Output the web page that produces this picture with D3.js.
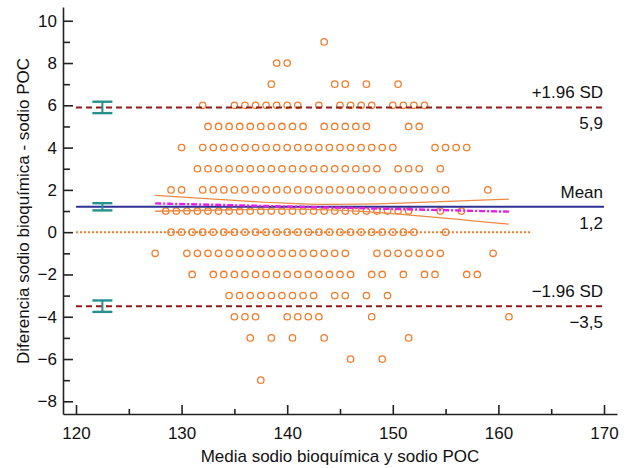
<!DOCTYPE html>
<html>
<head>
<meta charset="utf-8">
<script src="https://cdn.jsdelivr.net/npm/d3@7"></script>
<style>
body { margin: 0; background: #fff; }
svg text { font-family: "Liberation Sans", Arial, Helvetica, sans-serif; fill: #111; }
</style>
</head>
<body>
<svg id="chart" width="626" height="468"></svg>
<script>

// Difference (bioquímica - POC), one row of points per value

var diffLevels = [9, 8, 7, 6, 5, 4, 3, 2, 1, 0, -1, -2, -3, -4, -5, -6, -7];

// Mean of both measures, for each difference row above

var meansAt9 = [143.5];
var meansAt8 = [139, 140];
var meansAt7 = [138.5, 144.5, 145.5, 147.5, 150.5];
var meansAt6 = [132, 135, 136, 137, 138, 139, 140, 141, 143, 145, 146, 147, 148, 150, 151, 152, 153];
var meansAt5 = [132.5, 133.5, 134.5, 135.5, 136.5, 137.5, 138.5, 139.5, 140.5, 141.5, 143.5, 144.5, 145.5, 146.5, 147.5, 151.5, 152.5];
var meansAt4 = [130, 132, 133, 134, 135, 136, 137, 138, 139, 140, 141, 142, 143, 144, 145, 146, 147, 148, 149, 150, 154, 155, 156, 157];
var meansAt3 = [131.5, 132.5, 133.5, 134.5, 135.5, 136.5, 137.5, 138.5, 139.5, 140.5, 141.5, 142.5, 143.5, 144.5, 145.5, 146.5, 147.5, 148.5, 150.5, 151.5, 152.5, 154.5];
var meansAt2 = [129, 130, 132, 133, 134, 135, 136, 137, 138, 139, 140, 141, 142, 143, 144, 145, 146, 147, 148, 149, 150, 151, 152, 153, 154, 155, 159];
var meansAt1 = [128.5, 129.5, 130.5, 131.5, 132.5, 133.5, 134.5, 135.5, 136.5, 137.5, 138.5, 139.5, 140.5, 141.5, 142.5, 143.5, 144.5, 145.5, 146.5, 147.5, 148.5, 149.5, 150.5, 151.5, 154.5, 156.5];
var meansAt0 = [129, 130, 131, 132, 133, 134, 135, 136, 137, 138, 139, 140, 141, 142, 143, 144, 145, 146, 147, 148, 149, 150, 151, 152, 155];
var meansAtM1 = [127.5, 130.5, 131.5, 132.5, 133.5, 134.5, 135.5, 136.5, 137.5, 138.5, 139.5, 140.5, 141.5, 142.5, 143.5, 144.5, 145.5, 148.5, 149.5, 150.5, 151.5, 152.5, 153.5, 154.5, 159.5];
var meansAtM2 = [131, 133, 134, 135, 136, 137, 138, 139, 140, 141, 142, 143, 144, 145, 146, 148, 149, 151, 153, 154, 157, 158];
var meansAtM3 = [134.5, 135.5, 136.5, 137.5, 138.5, 139.5, 140.5, 141.5, 142.5, 144.5, 145.5, 147.5, 149.5];
var meansAtM4 = [135, 136, 137, 140, 141, 142, 143, 148, 161];
var meansAtM5 = [136.5, 138.5, 140.5, 143.5, 151.5];
var meansAtM6 = [146, 149];
var meansAtM7 = [137.5];

var meanRows = [meansAt9, meansAt8, meansAt7, meansAt6, meansAt5, meansAt4, meansAt3, meansAt2,
	meansAt1, meansAt0, meansAtM1, meansAtM2, meansAtM3, meansAtM4, meansAtM5, meansAtM6, meansAtM7];

// Limits of agreement and mean difference

var limitValues = [5.9, 1.2, -3.5];
var limitNames = ['+1.96 SD', 'Mean', '\u22121.96 SD'];
var limitLabels = ['5,9', '1,2', '\u22123,5'];
var limitLow = [5.63, 1.03, -3.77];
var limitHigh = [6.17, 1.37, -3.23];
var limitBarAt = 122.5;
var limitSpan = [120, 170];
var zeroSpan = [120, 163];

// Regression line of differences and its confidence band

var regX = [127.5, 161];
var regY = [1.36, 0.97];
var bandX = [127.5, 135, 142, 150, 161];
var bandUpper = [1.74, 1.50, 1.33, 1.36, 1.56];
var bandLower = [0.99, 1.06, 1.08, 0.88, 0.38];

// Ticks

var xTicks = [120, 130, 140, 150, 160, 170];
var xMinorTicks = [125, 135, 145, 155, 165];
var yTicks = [-8, -6, -4, -2, 0, 2, 4, 6, 8, 10];
var yMinorTicks = [-7, -5, -3, -1, 1, 3, 5, 7, 9];

var orange = '#ef7d2c';
var fontFamily = '"Liberation Sans", Arial, Helvetica, sans-serif';

var svg = d3.select('#chart');

var x = d3.scaleLinear().domain([118.77, 171.23]).range([63, 617]);
var y = d3.scaleLinear().domain([-8.6, 10.65]).range([414, 7]);

// axes

var xAxisG = svg.append('g')
	.attr('transform', 'translate(0,' + y(-8.6) + ')')
	.call(d3.axisBottom(x).tickValues(xTicks).tickSizeInner(-9).tickSizeOuter(0).tickPadding(13));

svg.append('g')
	.attr('transform', 'translate(0,' + y(-8.6) + ')')
	.call(d3.axisBottom(x).tickValues(xMinorTicks).tickSizeInner(-5).tickFormat(''))
	.call(function(g){ g.select('.domain').remove(); });

var yAxisG = svg.append('g')
	.attr('transform', 'translate(' + x(118.77) + ',0)')
	.call(d3.axisLeft(y).tickValues(yTicks).tickSizeInner(-10).tickSizeOuter(0).tickPadding(6));

svg.append('g')
	.attr('transform', 'translate(' + x(118.77) + ',0)')
	.call(d3.axisLeft(y).tickValues(yMinorTicks).tickSizeInner(-7).tickFormat(''))
	.call(function(g){ g.select('.domain').remove(); });

svg.selectAll('g')
	.attr('color', '#222')
	.attr('font-size', 17)
	.attr('font-family', fontFamily);

svg.selectAll('.domain, .tick line').attr('stroke-width', 1.6);

// points

var points = [];
diffLevels.forEach(function(d, i){
	meanRows[i].forEach(function(m){ points.push({ mean: m, diff: d }); });
});

svg.append('g').selectAll('circle')
	.data(points)
	.enter().append('circle')
	.attr('cx', function(d){ return x(d.mean); })
	.attr('cy', function(d){ return y(d.diff); })
	.attr('r', 3.2)
	.style('fill', 'none')
	.style('stroke', orange)
	.style('stroke-width', 1.3);

// zero line

svg.append('line')
	.attr('x1', x(zeroSpan[0]))
	.attr('x2', x(zeroSpan[1]))
	.attr('y1', y(0))
	.attr('y2', y(0))
	.style('stroke', orange)
	.style('stroke-width', 2)
	.style('stroke-dasharray', '2,2');

// confidence band of the regression

var bandLine = d3.line()
	.x(function(d){ return x(d[0]); })
	.y(function(d){ return y(d[1]); })
	.curve(d3.curveNatural);

[bandUpper, bandLower].forEach(function(vals){
	svg.append('path')
		.attr('d', bandLine(d3.zip(bandX, vals)))
		.style('fill', 'none')
		.style('stroke', '#ec8a45')
		.style('stroke-width', 1.3);
});

// limits of agreement + mean

var limits = svg.append('g').selectAll('g')
	.data(limitValues)
	.enter().append('g');

limits.append('line')
	.attr('x1', x(limitSpan[0]))
	.attr('x2', x(limitSpan[1]))
	.attr('y1', function(d){ return y(d); })
	.attr('y2', function(d){ return y(d); })
	.style('stroke', function(d, i){ return i == 1 ? '#2e3192' : '#8e1b1b'; })
	.style('stroke-width', 2)
	.style('stroke-dasharray', function(d, i){ return i == 1 ? null : '6,4'; });

// regression line

svg.append('line')
	.attr('x1', x(regX[0]))
	.attr('x2', x(regX[1]))
	.attr('y1', y(regY[0]))
	.attr('y2', y(regY[1]))
	.style('stroke', '#e61fe6')
	.style('stroke-width', 2.4)
	.style('stroke-dasharray', '6,2,2,2');

// confidence intervals of the limits

var bars = svg.append('g').selectAll('g')
	.data(limitValues)
	.enter().append('g')
	.style('stroke', '#26908d');

bars.append('line')
	.attr('x1', x(limitBarAt))
	.attr('x2', x(limitBarAt))
	.attr('y1', function(d, i){ return y(limitLow[i]); })
	.attr('y2', function(d, i){ return y(limitHigh[i]); })
	.style('stroke-width', 2);

[limitLow, limitHigh].forEach(function(ends){
	bars.append('line')
		.attr('x1', x(limitBarAt) - 10)
		.attr('x2', x(limitBarAt) + 10)
		.attr('y1', function(d, i){ return y(ends[i]); })
		.attr('y2', function(d, i){ return y(ends[i]); })
		.style('stroke-width', 2.4);
});

// labels at the right

limits.append('text')
	.attr('x', x(limitSpan[1]) - 1)
	.attr('y', function(d){ return y(d) - 9; })
	.style('text-anchor', 'end')
	.style('font-size', '17px')
	.text(function(d, i){ return limitNames[i]; });

limits.append('text')
	.attr('x', x(limitSpan[1]) - 1)
	.attr('y', function(d){ return y(d) + 22; })
	.style('text-anchor', 'end')
	.style('font-size', '17px')
	.text(function(d, i){ return limitLabels[i]; });

// axis titles

svg.append('text')
	.attr('x', 340)
	.attr('y', 462)
	.style('text-anchor', 'middle')
	.style('font-size', '17px')
	.text('Media sodio bioquímica y sodio POC');

svg.append('text')
	.attr('transform', 'translate(29,211) rotate(-90)')
	.style('text-anchor', 'middle')
	.style('font-size', '17px')
	.text('Diferencia sodio bioquímica - sodio POC');

</script>
</body>
</html>
